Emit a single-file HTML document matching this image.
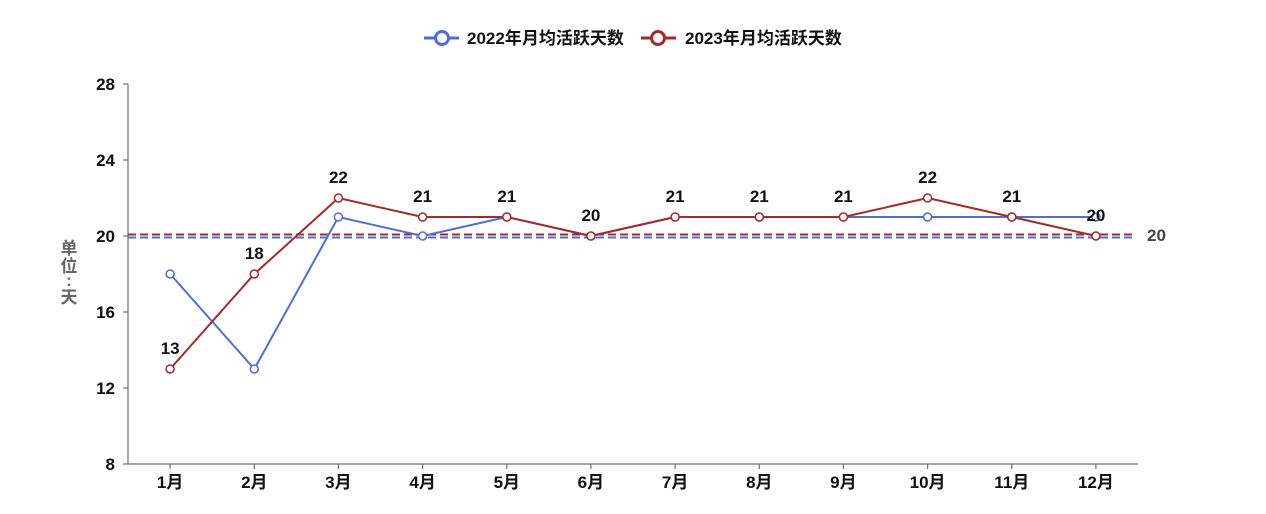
<!DOCTYPE html>
<html><head><meta charset="utf-8"><style>
html,body{margin:0;padding:0;background:#fff;}
svg{display:block;font-family:"Liberation Sans","Noto Sans CJK SC",sans-serif;}
</style></head><body>
<svg width="1266" height="514" viewBox="0 0 1266 514" xmlns="http://www.w3.org/2000/svg">
<!-- legend -->
<g>
<line x1="424" y1="38" x2="459" y2="38" stroke="#4f6fd6" stroke-width="3"/>
<circle cx="442" cy="38" r="6.5" fill="#fff" stroke="#4f6fd6" stroke-width="3"/>
<text x="467" y="44" font-size="17" font-weight="bold" fill="#111">2022年月均活跃天数</text>
<line x1="641" y1="38" x2="676" y2="38" stroke="#a52a2a" stroke-width="3"/>
<circle cx="658" cy="38" r="6.5" fill="#fff" stroke="#a52a2a" stroke-width="3"/>
<text x="685" y="44" font-size="17" font-weight="bold" fill="#111">2023年月均活跃天数</text>
</g>
<!-- axes -->
<g stroke="#6e7079" stroke-width="1.2" fill="none">
<line x1="128" y1="84" x2="128" y2="464"/>
<line x1="128" y1="464" x2="1138" y2="464"/>
<line x1="123" y1="84" x2="128" y2="84"/>
<line x1="123" y1="160" x2="128" y2="160"/>
<line x1="123" y1="236" x2="128" y2="236"/>
<line x1="123" y1="312" x2="128" y2="312"/>
<line x1="123" y1="388" x2="128" y2="388"/>
<line x1="123" y1="464" x2="128" y2="464"/>
<line x1="170.1" y1="464" x2="170.1" y2="469"/>
<line x1="254.3" y1="464" x2="254.3" y2="469"/>
<line x1="338.4" y1="464" x2="338.4" y2="469"/>
<line x1="422.6" y1="464" x2="422.6" y2="469"/>
<line x1="506.8" y1="464" x2="506.8" y2="469"/>
<line x1="590.9" y1="464" x2="590.9" y2="469"/>
<line x1="675.1" y1="464" x2="675.1" y2="469"/>
<line x1="759.3" y1="464" x2="759.3" y2="469"/>
<line x1="843.4" y1="464" x2="843.4" y2="469"/>
<line x1="927.6" y1="464" x2="927.6" y2="469"/>
<line x1="1011.8" y1="464" x2="1011.8" y2="469"/>
<line x1="1095.9" y1="464" x2="1095.9" y2="469"/>
</g>
<g font-size="17" font-weight="bold" fill="#111" text-anchor="end">
<text x="115" y="90">28</text>
<text x="115" y="166">24</text>
<text x="115" y="242">20</text>
<text x="115" y="318">16</text>
<text x="115" y="394">12</text>
<text x="115" y="470">8</text>
</g>
<g font-size="17" font-weight="bold" fill="#111" text-anchor="middle">
<text x="170.1" y="488">1月</text>
<text x="254.3" y="488">2月</text>
<text x="338.4" y="488">3月</text>
<text x="422.6" y="488">4月</text>
<text x="506.8" y="488">5月</text>
<text x="590.9" y="488">6月</text>
<text x="675.1" y="488">7月</text>
<text x="759.3" y="488">8月</text>
<text x="843.4" y="488">9月</text>
<text x="927.6" y="488">10月</text>
<text x="1011.8" y="488">11月</text>
<text x="1095.9" y="488">12月</text>
</g>
<!-- y axis name -->
<g font-size="17" font-weight="bold" fill="#666" text-anchor="middle">
<text x="69" y="254">单</text>
<text x="69" y="272">位</text>
<text x="69" y="286">:</text>
<text x="69" y="303">天</text>
</g>
<!-- marklines -->
<line x1="128" y1="237.5" x2="1135" y2="237.5" stroke="#4f6fd6" stroke-width="2" stroke-dasharray="8,4"/>
<line x1="128" y1="234.5" x2="1135" y2="234.5" stroke="#a52a2a" stroke-width="2" stroke-dasharray="8,4"/>
<text x="1147" y="241" font-size="17" font-weight="bold" fill="#444">20</text>
<!-- 2022 series -->
<polyline fill="none" stroke="#4f6fd6" stroke-width="2" stroke-linejoin="round"
 points="170.1,274 254.3,369 338.4,217 422.6,236 506.8,217 590.9,236 675.1,217 759.3,217 843.4,217 927.6,217 1011.8,217 1095.9,217"/>
<g fill="#fff" stroke="#4f6fd6" stroke-width="1.5">
<circle cx="170.1" cy="274" r="4"/><circle cx="254.3" cy="369" r="4"/><circle cx="338.4" cy="217" r="4"/>
<circle cx="422.6" cy="236" r="4"/><circle cx="506.8" cy="217" r="4"/><circle cx="590.9" cy="236" r="4"/>
<circle cx="675.1" cy="217" r="4"/><circle cx="759.3" cy="217" r="4"/><circle cx="843.4" cy="217" r="4"/>
<circle cx="927.6" cy="217" r="4"/><circle cx="1011.8" cy="217" r="4"/><circle cx="1095.9" cy="217" r="4"/>
</g>
<!-- 2023 series -->
<polyline fill="none" stroke="#a52a2a" stroke-width="2" stroke-linejoin="round"
 points="170.1,369 254.3,274 338.4,198 422.6,217 506.8,217 590.9,236 675.1,217 759.3,217 843.4,217 927.6,198 1011.8,217 1095.9,236"/>
<g fill="#fff" stroke="#a52a2a" stroke-width="1.5">
<circle cx="170.1" cy="369" r="4"/><circle cx="254.3" cy="274" r="4"/><circle cx="338.4" cy="198" r="4"/>
<circle cx="422.6" cy="217" r="4"/><circle cx="506.8" cy="217" r="4"/><circle cx="590.9" cy="236" r="4"/>
<circle cx="675.1" cy="217" r="4"/><circle cx="759.3" cy="217" r="4"/><circle cx="843.4" cy="217" r="4"/>
<circle cx="927.6" cy="198" r="4"/><circle cx="1011.8" cy="217" r="4"/><circle cx="1095.9" cy="236" r="4"/>
</g>
<g font-size="17" font-weight="bold" fill="#111" text-anchor="middle">
<text x="170.1" y="354">13</text>
<text x="254.3" y="259">18</text>
<text x="338.4" y="183">22</text>
<text x="422.6" y="202">21</text>
<text x="506.8" y="202">21</text>
<text x="590.9" y="221">20</text>
<text x="675.1" y="202">21</text>
<text x="759.3" y="202">21</text>
<text x="843.4" y="202">21</text>
<text x="927.6" y="183">22</text>
<text x="1011.8" y="202">21</text>
<text x="1095.9" y="221">20</text>
</g>
</svg>
</body></html>
